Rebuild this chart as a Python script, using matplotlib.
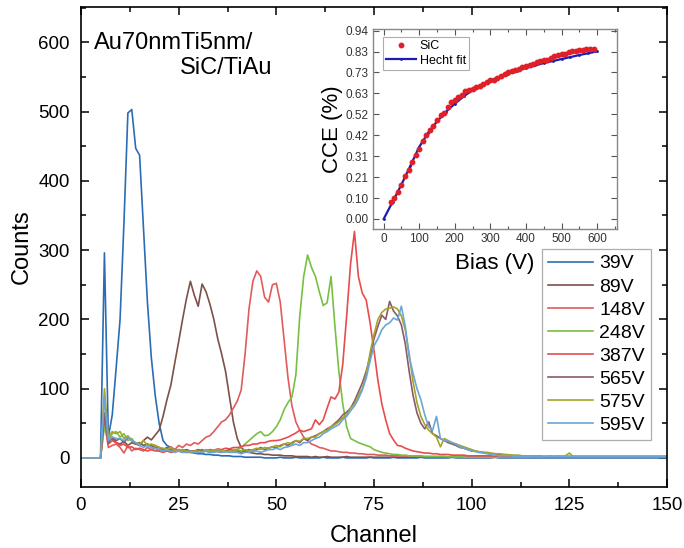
import matplotlib
matplotlib.use("Agg")
import matplotlib.pyplot as plt
from matplotlib.ticker import MultipleLocator, FixedLocator, FixedFormatter
import numpy as np

plt.rcParams['font.family'] = ['Liberation Sans', 'DejaVu Sans']

channels = list(range(0, 151))

labels = ["39V", "89V", "148V", "248V", "387V", "565V", "575V", "595V"]
colors = ["#2b6cb5", "#7e5048", "#e25b5b", "#78c043", "#e84c4c", "#8a5a6a", "#a5a52a", "#6aa6d8"]

counts_39V = [
    0, 0, 0, 0, 0, 0, 296, 30, 62, 130,
    200, 340, 498, 503, 447, 437, 330, 225, 145, 90,
    50, 25, 18, 15, 12, 10, 9, 8, 8, 7,
    6, 6, 5, 5, 4, 4, 3, 3, 3, 2,
    2, 2, 1, 1, 1, 1, 1, 0, 0, 0,
    0, 1, 0, 0, 0, 1, 0, 0, 0, 0,
    0, 0, 1, 0, 0, 0, 0, 1, 0, 0,
    0, 0, 0, 0, 1, 0, 0, 0, 0, 0,
    1, 0, 0, 0, 0, 0, 0, 1, 0, 0,
    0, 0, 0, 0, 0, 1, 0, 0, 0, 0,
    0, 0, 0, 0, 0, 0, 1, 0, 0, 0,
    0, 0, 0, 0, 0, 0, 0, 0, 0, 0,
    0, 0, 0, 0, 0, 0, 0, 0, 0, 0,
    0, 0, 0, 0, 0, 0, 0, 0, 0, 0,
    0, 0, 0, 0, 0, 0, 0, 0, 0, 0,
    0]

counts_89V = [
    0, 0, 0, 0, 0, 0, 60, 25, 28, 22,
    20, 24, 18, 22, 20, 18, 25, 30, 26, 33,
    40, 60, 84, 105, 137, 168, 200, 230, 255, 235,
    219, 251, 240, 222, 200, 172, 150, 125, 88, 52,
    28, 15, 10, 8, 7, 6, 6, 5, 5, 4,
    4, 4, 3, 3, 3, 2, 2, 2, 2, 1,
    2, 1, 1, 2, 1, 1, 1, 1, 2, 1,
    1, 1, 1, 1, 1, 1, 1, 1, 1, 1,
    1, 1, 1, 1, 1, 1, 1, 1, 1, 1,
    1, 1, 1, 1, 1, 1, 1, 1, 1, 1,
    1, 1, 1, 1, 1, 1, 1, 1, 1, 1,
    1, 1, 1, 1, 1, 1, 1, 1, 1, 1,
    1, 1, 1, 1, 1, 1, 1, 1, 1, 1,
    1, 1, 1, 1, 1, 1, 1, 1, 1, 1,
    1, 1, 1, 1, 1, 1, 1, 1, 1, 1,
    1]

counts_148V = [
    0, 0, 0, 0, 0, 0, 52, 15, 18, 20,
    15, 7, 18, 10, 14, 12, 10, 15, 12, 14,
    10, 12, 14, 16, 12, 18, 15, 20, 18, 22,
    20, 25, 30, 32, 38, 45, 52, 55, 62, 72,
    82, 98, 150, 215, 255, 270, 262, 232, 225, 250,
    252, 225, 170, 115, 75, 52, 40, 30, 25, 20,
    18, 15, 14, 12, 10, 10, 9, 8, 8, 7,
    7, 6, 6, 5, 5, 5, 4, 4, 4, 3,
    3, 3, 3, 3, 2, 3, 2, 2, 2, 2,
    2, 2, 2, 2, 1, 2, 1, 1, 1, 1,
    1, 1, 1, 1, 1, 1, 1, 1, 1, 1,
    1, 1, 1, 1, 1, 1, 1, 1, 1, 1,
    1, 1, 1, 1, 1, 1, 1, 1, 1, 1,
    1, 1, 1, 1, 1, 1, 1, 1, 1, 1,
    1, 1, 1, 1, 1, 1, 1, 1, 1, 1,
    1]

counts_248V = [
    0, 0, 0, 0, 0, 0, 45, 25, 35, 38,
    30, 35, 25, 28, 20, 22, 18, 20, 15, 18,
    15, 12, 14, 10, 12, 10, 12, 10, 8, 10,
    10, 8, 10, 9, 8, 10, 10, 9, 10, 12,
    12, 15, 20, 25, 30, 35, 38, 32, 33, 38,
    45, 55, 70, 80, 88, 120, 205, 262, 293, 275,
    262, 240, 220, 224, 262, 190, 125, 78, 45, 28,
    25, 22, 20, 18, 16, 12, 10, 8, 7, 6,
    5, 5, 4, 4, 3, 3, 3, 3, 2, 2,
    2, 2, 2, 2, 2, 2, 1, 2, 1, 1,
    1, 1, 1, 1, 1, 1, 1, 1, 1, 1,
    1, 1, 1, 1, 1, 1, 1, 1, 1, 1,
    1, 1, 1, 1, 1, 1, 1, 1, 1, 1,
    1, 1, 1, 1, 1, 1, 1, 1, 1, 1,
    1, 1, 1, 1, 1, 1, 1, 1, 1, 1,
    1]

counts_387V = [
    0, 0, 0, 0, 0, 0, 60, 20, 25, 22,
    18, 20, 15, 16, 12, 14, 12, 10, 12, 10,
    10, 8, 10, 8, 9, 10, 8, 10, 9, 10,
    10, 12, 10, 12, 11, 13, 12, 14, 13, 15,
    15, 16, 18, 18, 20, 20, 22, 22, 24, 25,
    25, 26, 28, 30, 33, 36, 40, 38, 40, 42,
    55, 48, 55, 72, 88, 85, 95, 135, 205, 280,
    327, 262, 238, 228, 195, 155, 112, 78, 55, 35,
    26, 18, 17, 14, 12, 10, 9, 8, 7, 7,
    6, 6, 5, 5, 5, 4, 4, 4, 4, 3,
    3, 3, 3, 3, 3, 3, 2, 3, 2, 2,
    2, 2, 2, 2, 2, 2, 2, 2, 2, 2,
    2, 2, 2, 2, 2, 2, 2, 2, 2, 2,
    2, 2, 2, 2, 2, 2, 2, 2, 2, 2,
    2, 2, 2, 2, 2, 2, 2, 2, 2, 2,
    2]

counts_565V = [
    0, 0, 0, 0, 0, 0, 65, 22, 30, 25,
    28, 22, 30, 25, 20, 22, 18, 20, 18, 15,
    15, 12, 15, 12, 10, 12, 10, 12, 10, 10,
    12, 10, 10, 8, 10, 9, 8, 10, 12, 10,
    10, 8, 10, 12, 10, 12, 15, 12, 14, 16,
    15, 18, 20, 18, 22, 25, 22, 28, 25, 30,
    32, 35, 38, 42, 45, 50, 55, 62, 66, 72,
    82, 95, 108, 125, 146, 172, 190, 206, 200, 226,
    212, 205, 192, 165, 125, 90, 65, 50, 42, 52,
    35, 32, 28, 25, 22, 20, 18, 15, 14, 12,
    10, 10, 8, 8, 7, 6, 6, 5, 5, 4,
    4, 3, 3, 3, 3, 3, 2, 3, 2, 2,
    2, 2, 2, 2, 2, 2, 2, 2, 2, 2,
    2, 2, 2, 2, 2, 2, 2, 2, 2, 2,
    2, 2, 2, 2, 2, 2, 2, 2, 2, 2,
    2]

counts_575V = [
    0, 0, 0, 0, 0, 0, 100, 30, 38, 35,
    38, 28, 32, 25, 22, 20, 25, 18, 20, 18,
    15, 14, 12, 15, 10, 12, 10, 10, 8, 10,
    10, 9, 12, 10, 10, 12, 10, 9, 10, 10,
    12, 10, 12, 10, 12, 14, 12, 15, 14, 16,
    18, 16, 20, 22, 20, 25, 24, 28, 28, 30,
    30, 35, 38, 40, 45, 48, 52, 58, 62, 72,
    78, 90, 100, 120, 152, 178, 200, 210, 215, 216,
    218, 215, 205, 185, 150, 110, 80, 60, 48, 40,
    35, 30, 16, 28, 25, 22, 20, 18, 16, 14,
    12, 10, 9, 8, 8, 7, 6, 6, 5, 5,
    4, 4, 4, 3, 3, 3, 3, 3, 2, 2,
    3, 2, 3, 2, 3, 7, 2, 2, 2, 2,
    2, 2, 2, 2, 2, 2, 2, 2, 2, 2,
    2, 2, 2, 2, 2, 2, 2, 2, 2, 2,
    2]

counts_595V = [
    0, 0, 0, 0, 0, 0, 85, 25, 30, 28,
    28, 25, 30, 25, 22, 18, 15, 18, 15, 14,
    12, 10, 12, 10, 8, 10, 8, 8, 10, 8,
    8, 8, 10, 8, 8, 10, 8, 9, 8, 8,
    8, 6, 8, 8, 10, 10, 8, 10, 12, 12,
    14, 12, 15, 16, 18, 20, 18, 22, 22, 25,
    28, 30, 35, 38, 42, 45, 48, 55, 60, 68,
    75, 85, 98, 115, 140, 162, 172, 185, 192, 195,
    202, 199, 219, 190, 146, 122, 100, 84, 62, 45,
    40, 60, 28, 25, 24, 22, 20, 16, 14, 12,
    10, 9, 8, 7, 6, 5, 4, 3, 3, 3,
    3, 2, 2, 2, 2, 2, 2, 2, 2, 2,
    2, 2, 2, 2, 2, 2, 2, 2, 2, 2,
    2, 2, 2, 2, 2, 2, 2, 2, 2, 2,
    2, 2, 2, 2, 2, 2, 2, 2, 2, 2,
    2]

series = [counts_39V, counts_89V, counts_148V, counts_248V,
          counts_387V, counts_565V, counts_575V, counts_595V]

# Inset data
bias_sic = [20, 30, 40, 50, 60, 70, 80, 90, 100, 110, 120, 130, 140, 150, 160,
            170, 180, 190, 200, 210, 220, 230, 240, 250, 260, 270, 280, 290, 300,
            310, 320, 330, 340, 350, 360, 370, 380, 390, 400, 410, 420, 430, 440,
            450, 460, 470, 480, 490, 500, 510, 520, 530, 540, 550, 560, 570, 580, 590]
cce_sic = [0.087, 0.105, 0.137, 0.170, 0.212, 0.245, 0.283, 0.317, 0.348, 0.387,
           0.420, 0.445, 0.465, 0.495, 0.520, 0.528, 0.558, 0.582, 0.595, 0.608,
           0.620, 0.637, 0.642, 0.648, 0.658, 0.665, 0.675, 0.685, 0.695, 0.695,
           0.703, 0.715, 0.725, 0.732, 0.740, 0.745, 0.750, 0.757, 0.765, 0.770,
           0.775, 0.782, 0.788, 0.792, 0.795, 0.803, 0.812, 0.820, 0.823, 0.825,
           0.832, 0.836, 0.840, 0.845, 0.842, 0.846, 0.848, 0.846]
bias_fit = [0, 25, 50, 75, 100, 125, 150, 175, 200, 225, 250, 275, 300, 325, 350,
            375, 400, 425, 450, 475, 500, 525, 550, 575, 600]
cce_fit = [0.0, 0.085, 0.172, 0.265, 0.36, 0.43, 0.487, 0.535, 0.575, 0.612, 0.643,
           0.668, 0.69, 0.709, 0.725, 0.74, 0.753, 0.766, 0.778, 0.788, 0.798,
           0.808, 0.818, 0.827, 0.836]
inset_ticks = [0.0, 0.1044, 0.2089, 0.3133, 0.4178, 0.5222, 0.6267, 0.7311, 0.8356, 0.94]
inset_ticklabels = ["0.00", "0.10", "0.21", "0.31", "0.42", "0.52", "0.63", "0.73", "0.83", "0.94"]

W, H = 684, 548
fig = plt.figure(figsize=(W / 100, H / 100), dpi=100)
ax = fig.add_axes([81 / W, 1 - 487 / H, (667 - 81) / W, (487 - 7) / H])

lines = []
for y, lab, c in zip(series, labels, colors):
    ln, = ax.plot(channels, y, color=c, lw=1.2, label=lab)
    lines.append(ln)

ax.set_xlim(0, 150)
ax.set_ylim(-42, 651)
ax.xaxis.set_major_locator(MultipleLocator(25))
ax.xaxis.set_minor_locator(MultipleLocator(12.5))
ax.yaxis.set_major_locator(MultipleLocator(100))
ax.yaxis.set_minor_locator(MultipleLocator(50))
ax.tick_params(which='both', direction='in', top=True, right=True, width=1.1)
ax.tick_params(which='major', length=6, labelsize=13.5)
ax.tick_params(which='minor', length=3.5)
ax.tick_params(axis='y', pad=8)
ax.tick_params(axis='x', pad=7)
for s in ax.spines.values():
    s.set_linewidth(1.2)
ax.set_xlabel("Channel", fontsize=17, labelpad=8)
ax.set_ylabel("Counts", fontsize=17, labelpad=4)

fig.text(94 / W, 1 - 43 / H, "Au70nmTi5nm/", fontsize=17, va='center', ha='left')
fig.text(180 / W, 1 - 68 / H, "SiC/TiAu", fontsize=17, va='center', ha='left')

leg = ax.legend(handles=lines, loc='upper left', bbox_to_anchor=(542 / W, 1 - 249 / H),
                bbox_transform=fig.transFigure, fontsize=14, handlelength=2.3,
                labelspacing=0.28, borderaxespad=0, borderpad=0.3, handletextpad=0.35,
                fancybox=False, frameon=True, edgecolor='#999999')
leg.get_frame().set_linewidth(0.9)

# Inset
ax2 = fig.add_axes([373 / W, 1 - 229 / H, (617 - 373) / W, (229 - 29) / H])
ax2.plot(bias_fit, cce_fit, color='#1c1cb0', lw=1.6, marker='.', markersize=2,
         label='Hecht fit', zorder=2)
ax2.plot(bias_sic, cce_sic, linestyle='none', marker='o', color='#e02028',
         markersize=3.2, label='SiC', zorder=3)
ax2.set_xlim(-30, 656)
ax2.set_ylim(-0.05, 0.948)
ax2.xaxis.set_major_locator(MultipleLocator(100))
ax2.xaxis.set_minor_locator(MultipleLocator(50))
ax2.yaxis.set_major_locator(FixedLocator(inset_ticks))
ax2.yaxis.set_major_formatter(FixedFormatter(inset_ticklabels))
ax2.tick_params(which='both', direction='in', top=True, right=True, colors='#555555',
                labelcolor='#333333', width=0.8)
ax2.tick_params(which='major', length=4, labelsize=8.5, pad=3)
ax2.tick_params(which='minor', length=2)
for s in ax2.spines.values():
    s.set_color('#888888')
    s.set_linewidth(1.0)
ax2.set_xlabel("Bias (V)", fontsize=16, labelpad=6)
ax2.set_ylabel("CCE (%)", fontsize=16, labelpad=2)
h, l = ax2.get_legend_handles_labels()
leg2 = ax2.legend([h[1], h[0]], [l[1], l[0]], loc='upper left',
                  bbox_to_anchor=(383 / W, 1 - 37 / H), bbox_transform=fig.transFigure,
                  fontsize=9, handlelength=2.4, borderaxespad=0, borderpad=0.25,
                  labelspacing=0.2, handletextpad=0.3, fancybox=False,
                  edgecolor='#999999')
leg2.get_frame().set_linewidth(0.8)

fig.savefig("out.png", dpi=100)
